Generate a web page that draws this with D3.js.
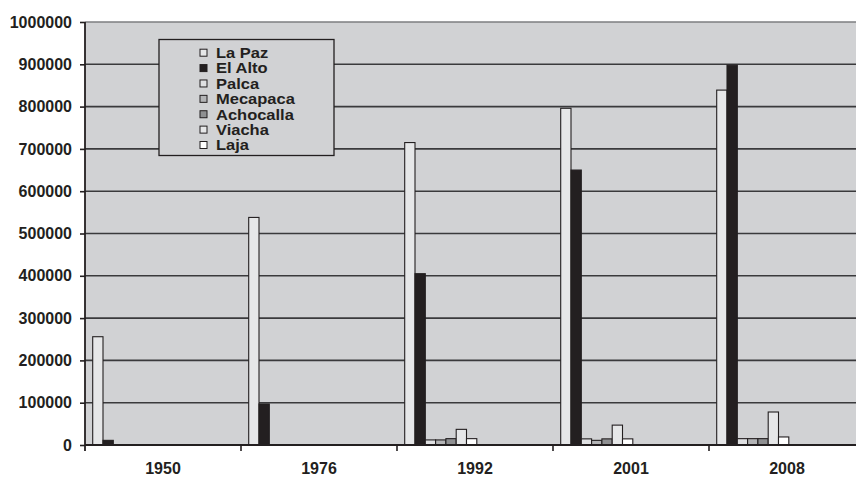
<!DOCTYPE html>
<html>
<head>
<meta charset="utf-8">
<script src="https://cdn.jsdelivr.net/npm/d3@7/dist/d3.min.js"></script>
<style>
  html, body { margin: 0; padding: 0; background: #ffffff; }
  svg { display: block; }
  text { font-family: "Liberation Sans", Arial, sans-serif; font-weight: bold; fill: #231f20; }
</style>
</head>
<body>
<svg id="chart" width="856" height="477"></svg>
<script>
// Census years (categories)
const years = ["1950", "1976", "1992", "2001", "2008"];

// Municipalities (series)
const series = ["La Paz", "El Alto", "Palca", "Mecapaca", "Achocalla", "Viacha", "Laja"];

// Population per municipality, one value per census year (null = no bar)
const laPaz     = [256000, 538000, 715000, 796000, 839000];
const elAlto    = [11000, 97000, 405000, 650000, 898000];
const palca     = [null, null, 12000, 14500, 15000];
const mecapaca  = [null, null, 12000, 11000, 15000];
const achocalla = [null, null, 15000, 14500, 15000];
const viacha    = [null, null, 37000, 47000, 78000];
const laja      = [null, null, 15000, 14500, 19000];

const yTicks = [0, 100000, 200000, 300000, 400000, 500000, 600000, 700000, 800000, 900000, 1000000];

const values = [laPaz, elAlto, palca, mecapaca, achocalla, viacha, laja];
const fills = ["#e6e7e8", "#231f20", "#dfe0e2", "#b3b4b6", "#8f9092", "#e6e7e8", "#ffffff"];

const svg = d3.select("#chart");
const plotLeft = 85, plotRight = 865, plotTop = 22, plotBottom = 445;

const x = d3.scaleBand().domain(years).range([plotLeft, plotRight]).padding(0);
const xs = d3.scaleBand().domain(series).range([7.7, 79.8]).padding(0);
const y = d3.scaleLinear().domain([0, 1000000]).range([plotBottom, plotTop]);

// plot background
svg.append("rect")
  .attr("x", plotLeft).attr("y", plotTop)
  .attr("width", plotRight - plotLeft).attr("height", plotBottom - plotTop)
  .attr("fill", "#d1d2d4");

// horizontal gridlines
svg.append("g").selectAll("line")
  .data(yTicks.filter(d => d > 0))
  .join("line")
  .attr("x1", plotLeft).attr("x2", plotRight)
  .attr("y1", d => y(d)).attr("y2", d => y(d))
  .attr("stroke", d => d === 1000000 ? "#7d7e80" : "#3a3a3c")
  .attr("stroke-width", 1.6);

// bars
const bars = [];
years.forEach((yr, i) => {
  series.forEach((s, j) => {
    const v = values[j][i];
    if (v != null) bars.push({ year: yr, series: s, value: v, fill: fills[j] });
  });
});

svg.append("g").selectAll("rect")
  .data(bars)
  .join("rect")
  .attr("x", d => x(d.year) + xs(d.series))
  .attr("width", xs.bandwidth())
  .attr("y", d => y(d.value))
  .attr("height", d => plotBottom - y(d.value))
  .attr("fill", d => d.fill)
  .attr("stroke", "#231f20")
  .attr("stroke-width", 1.1);

// y axis
const yAxis = d3.axisLeft(y).tickValues(yTicks).tickSize(5).tickPadding(8).tickFormat(d3.format("d"));
const gy = svg.append("g").attr("transform", `translate(${plotLeft},0)`).call(yAxis);
gy.select(".domain").remove();
gy.selectAll(".tick line").attr("stroke", "#231f20").attr("stroke-width", 1.6);
gy.selectAll(".tick text").style("font-size", "16px").attr("fill", "#231f20");
svg.append("line")
  .attr("x1", plotLeft).attr("x2", plotLeft).attr("y1", plotTop).attr("y2", plotBottom + 6)
  .attr("stroke", "#231f20").attr("stroke-width", 1.8);

// x axis baseline, category boundary ticks and labels
svg.append("line")
  .attr("x1", plotLeft).attr("x2", plotRight).attr("y1", plotBottom).attr("y2", plotBottom)
  .attr("stroke", "#231f20").attr("stroke-width", 1.8);
svg.append("g").selectAll("line")
  .data(years.slice(1))
  .join("line")
  .attr("x1", d => x(d)).attr("x2", d => x(d))
  .attr("y1", plotBottom).attr("y2", plotBottom + 6)
  .attr("stroke", "#231f20").attr("stroke-width", 1.6);
const xAxis = d3.axisBottom(x).tickSize(0).tickPadding(18);
const gx = svg.append("g").attr("transform", `translate(0,${plotBottom})`).call(xAxis);
gx.select(".domain").remove();
gx.selectAll(".tick text").style("font-size", "16px").attr("fill", "#231f20");

// legend
const lg = svg.append("g");
lg.append("rect")
  .attr("x", 159).attr("y", 39.5).attr("width", 175).attr("height", 116)
  .attr("fill", "#d1d2d4").attr("stroke", "#231f20").attr("stroke-width", 1.3);
const rowY = d3.scaleLinear().domain([0, 6]).range([52.7, 145]);
const items = lg.selectAll("g.item").data(series).join("g").attr("class", "item");
items.append("rect")
  .attr("x", 200).attr("y", (d, i) => rowY(i) - 3.5)
  .attr("width", 7).attr("height", 7)
  .attr("fill", (d, i) => fills[i])
  .attr("stroke", "#231f20").attr("stroke-width", 1);
items.append("text")
  .attr("transform", (d, i) => `translate(216,${rowY(i) + 5.4}) scale(1.1,1)`)
  .style("font-size", "15px")
  .text(d => d);
</script>
</body>
</html>
